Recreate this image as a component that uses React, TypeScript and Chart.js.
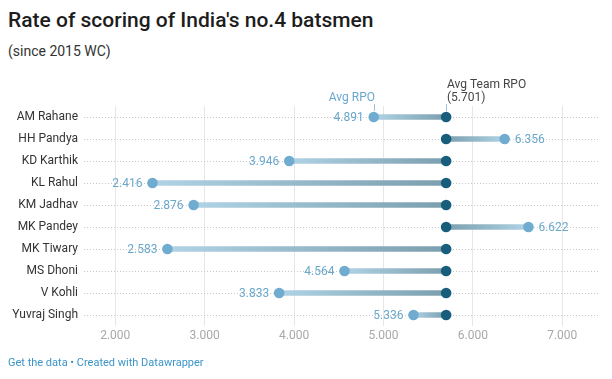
import React, { useEffect, useRef } from "react";
import { Chart, registerables } from "chart.js";

Chart.register(...registerables);

const players = [
  "AM Rahane",
  "HH Pandya",
  "KD Karthik",
  "KL Rahul",
  "KM Jadhav",
  "MK Pandey",
  "MK Tiwary",
  "MS Dhoni",
  "V Kohli",
  "Yuvraj Singh",
];
const avgRpo = [4.891, 6.356, 3.946, 2.416, 2.876, 6.622, 2.583, 4.564, 3.833, 5.336];
const teamRpo = 5.701;
const xTicks = [2, 3, 4, 5, 6, 7];

const LIGHT = "#70acd0";
const DARK = "#185e7c";
const LINE_LIGHT = "#b0d3e5";
const LINE_DARK = "#7b9fae";
const FONT = "Roboto";

const labelPlugin = {
  id: "valueLabels",
  afterDatasetsDraw(chart: any) {
    const ctx = chart.ctx;
    const xs = chart.scales.x;
    const ys = chart.scales.y;
    ctx.save();
    ctx.font = `12px ${FONT}`;
    ctx.fillStyle = "#6aa7cb";
    ctx.textBaseline = "middle";
    avgRpo.forEach((v, i) => {
      const px = xs.getPixelForValue(v);
      const py = ys.getPixelForValue(i);
      const txt = v.toFixed(3);
      if (v < teamRpo) {
        ctx.textAlign = "right";
        ctx.fillText(txt, px - 10, py + 0.5);
      } else {
        ctx.textAlign = "left";
        ctx.fillText(txt, px + 10, py + 0.5);
      }
    });
    // annotations
    const rowY = ys.getPixelForValue(0);
    const xa = Math.round(xs.getPixelForValue(avgRpo[0]));
    const xt = Math.round(xs.getPixelForValue(teamRpo));
    ctx.lineWidth = 1;
    ctx.strokeStyle = "#9cc6dd";
    ctx.beginPath();
    ctx.moveTo(xa + 0.5, rowY - 13);
    ctx.lineTo(xa + 0.5, rowY - 6);
    ctx.stroke();
    ctx.beginPath();
    ctx.moveTo(xt + 0.5, rowY - 13);
    ctx.lineTo(xt + 0.5, rowY - 6);
    ctx.stroke();
    ctx.textBaseline = "alphabetic";
    ctx.textAlign = "right";
    ctx.fillStyle = "#6aa7cb";
    ctx.fillText("Avg RPO", xa + 1, rowY - 16);
    ctx.textAlign = "left";
    ctx.fillStyle = "#444";
    ctx.fillText("Avg Team RPO", xt + 1, rowY - 29);
    ctx.fillText(`(${teamRpo.toFixed(3)})`, xt + 1, rowY - 16);
    ctx.restore();
  },
};

export default function App() {
  const ref = useRef<HTMLCanvasElement>(null);
  useEffect(() => {
    document.body.style.margin = "0";
    const canvas = ref.current!;
    const chart = new Chart(canvas, {
      type: "bar",
      data: {
        labels: players,
        datasets: [
          {
            type: "scatter",
            data: players.map((p) => ({ x: teamRpo, y: p })),
            backgroundColor: DARK,
            borderWidth: 0,
            pointRadius: 5.3,
            order: 1,
          } as any,
          {
            type: "scatter",
            data: players.map((p, i) => ({ x: avgRpo[i], y: p })),
            backgroundColor: LIGHT,
            borderWidth: 0,
            pointRadius: 5.3,
            order: 2,
          } as any,
          {
            type: "bar",
            data: avgRpo.map((v) => [v, teamRpo]),
            barThickness: 5,
            borderWidth: 0,
            borderSkipped: false,
            order: 3,
            backgroundColor: (c: any) => {
              const ch = c.chart;
              if (!ch.chartArea || c.dataIndex == null) return LINE_LIGHT;
              const xs = ch.scales.x;
              const v = avgRpo[c.dataIndex];
              const g = ch.ctx.createLinearGradient(
                xs.getPixelForValue(v),
                0,
                xs.getPixelForValue(teamRpo),
                0
              );
              g.addColorStop(0, LINE_LIGHT);
              g.addColorStop(1, LINE_DARK);
              return g;
            },
          } as any,
        ],
      },
      options: {
        indexAxis: "y",
        animation: false,
        responsive: false,
        events: [],
        layout: { padding: { left: 0, right: 14, top: 106, bottom: 33 } },
        plugins: { legend: { display: false }, tooltip: { enabled: false } },
        scales: {
          x: {
            type: "linear",
            min: 1.65,
            max: 7.4,
            afterBuildTicks: (s: any) => {
              s.ticks = xTicks.map((v) => ({ value: v }));
            },
            afterFit: (s: any) => {
              s.height = 20;
            },
            border: { display: false },
            grid: { color: "#e6e6e6", drawTicks: false, lineWidth: 1 },
            ticks: {
              padding: 3,
              color: "#a8a8a8",
              font: { family: FONT, size: 12 },
              callback: (v: any) => Number(v).toFixed(3),
            },
          },
          y: {
            type: "category",
            offset: true,
            afterFit: (s: any) => {
              s.width = 84;
            },
            border: { display: false, dash: [1, 2] },
            grid: {
              color: "#c8c8c8",
              drawTicks: false,
              offset: false,
            },
            ticks: {
              padding: 6,
              color: "#333",
              font: { family: FONT, size: 12 },
            },
          },
        },
      },
      plugins: [labelPlugin],
    } as any);
    return () => chart.destroy();
  }, []);

  return (
    <div style={{ position: "relative", width: 612, height: 379, fontFamily: FONT }}>
      <div
        style={{
          position: "absolute",
          left: 8,
          top: 8,
          fontSize: 21,
          fontWeight: 500,
          color: "#1d1d1d",
          whiteSpace: "nowrap",
        }}
      >
        Rate of scoring of India's no.4 batsmen
      </div>
      <div
        style={{
          position: "absolute",
          left: 8,
          top: 43,
          fontSize: 14,
          color: "#333",
          whiteSpace: "nowrap",
        }}
      >
        (since 2015 WC)
      </div>
      <canvas ref={ref} width={612} height={379} style={{ position: "absolute", left: 0, top: 0 }} />
      <div
        style={{
          position: "absolute",
          left: 8,
          top: 356,
          fontSize: 11,
          color: "#3a94c8",
          whiteSpace: "nowrap",
        }}
      >
        Get the data • Created with Datawrapper
      </div>
    </div>
  );
}
